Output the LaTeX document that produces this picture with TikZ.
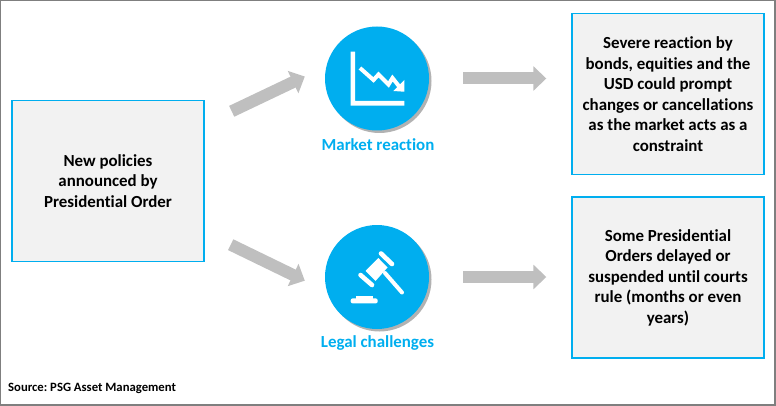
\documentclass[tikz,border=0pt]{standalone}
\usepackage{fontspec}
\setmainfont{Carlito}[Ligatures=NoCommon]
\frenchspacing
\usetikzlibrary{arrows.meta,shadows}
\definecolor{psgblue}{RGB}{0,174,239}
\definecolor{boxgrey}{RGB}{242,242,242}
\definecolor{arrowgrey}{RGB}{191,191,191}
\definecolor{framegrey}{RGB}{127,127,127}
\tikzset{
	textbox/.style={draw=psgblue,fill=boxgrey,line width=1.4pt,minimum width=192pt,minimum height=161pt,align=center,inner sep=0pt,font=\fontsize{16.9}{20.5}\selectfont\bfseries,text=black},
	roundel/.style={circle,fill=psgblue,draw=none,minimum size=104pt,inner sep=0pt,drop shadow={shadow xshift=2.5pt,shadow yshift=-2.5pt,opacity=.3,fill=black}},
	caption/.style={text=psgblue,inner sep=0pt,font=\fontsize{16.9}{18}\selectfont\bfseries},
	bigarrow/.style={draw=arrowgrey,line width=12pt,-{Triangle[length=13pt,width=24pt]}},
	icon/.style={fill=white,draw=none}
}
\begin{document}
\begin{tikzpicture}[x=1pt,y=-1pt]
	\useasboundingbox (0,0) rectangle (776,406);
	\draw[framegrey,line width=1.6pt] (0.6,0.6) rectangle (774.7,405);
	\node[textbox] (policy) at (108,181) {New policies\\announced by\\Presidential Order};
	\node[textbox] (result1) at (668,94) {Severe reaction by\\bonds, equities and the\\USD could prompt\\changes or cancellations\\as the market acts as a\\constraint};
	\node[textbox] (result2) at (668,277.5) {Some Presidential\\Orders delayed or\\suspended until courts\\rule (months or even\\years)};
	\node[roundel] (market) at (377,78.5) {};
	\node[roundel] (legal) at (377,277) {};
	\node[caption] (marketlabel) at (378,144.5) {Market reaction};
	\node[caption] (legallabel) at (377.5,343) {Legal challenges};
	\node[anchor=west,inner sep=0pt,font=\fontsize{12.7}{15}\selectfont\bfseries] (source) at (8,388) {Source: PSG Asset Management};
	% block arrows
	\draw[bigarrow] ([shift={(27,11.5)}]policy.north east) -- ([shift={(-20,-2)}]market.west);
	\draw[bigarrow] ([shift={(26,-17.5)}]policy.south east) -- ([shift={(-20,3.7)}]legal.west);
	\draw[bigarrow,shorten <=34pt,shorten >=25pt] (market.east) -- (market.east -| result1.west);
	\draw[bigarrow,shorten <=34pt,shorten >=25pt] (legal.east) -- (legal.east -| result2.west);
	% chart icon
	\fill[icon] (350.7,51.7) -- (355,51.7) -- (355,101) -- (404.3,101) -- (404.3,105.7) -- (350.7,105.7) -- cycle;
	\draw[white,line width=4pt] (360,68) -- (373.5,80) -- (378.5,74.5) -- (388.5,84.5) -- (392.5,78) -- (402,90);
	\fill[icon] (404.3,91.7) -- (404.3,80) -- (393.3,91) -- cycle;
	% gavel icon
	\draw[white,line width=4pt,line cap=round] (385,273) -- (402,292.5);
	\fill[icon] (378.3,258) -- (387.5,267.5) -- (375.5,281) -- (365.5,271) -- cycle;
	\draw[white,line width=4.6pt,line cap=round] (381,253.5) -- (392,264);
	\draw[white,line width=4.6pt,line cap=round] (360.5,275) -- (372,285);
	\fill[icon,rounded corners=2pt] (350.7,298.4) rectangle (377.7,303.4);
	\fill[icon] (355.5,295.6) rectangle (372.8,299);
\end{tikzpicture}
\end{document}
